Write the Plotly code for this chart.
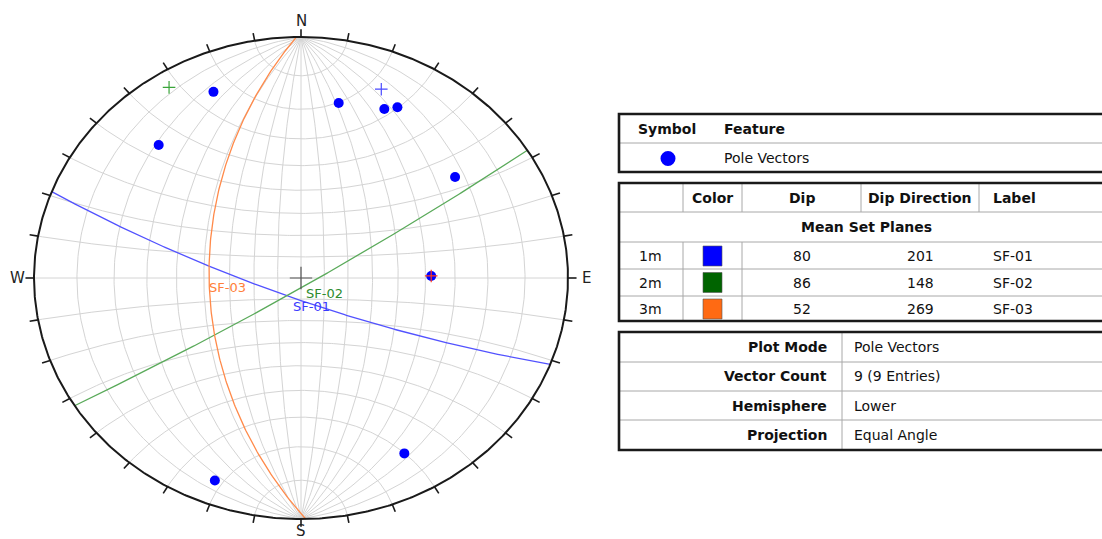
import numpy as np
import plotly.graph_objects as go

# ---------------- data ----------------
# pole vectors (trend / plunge, degrees)
pole_trend = [337, 316, 11, 24, 27, 54, 89, 152, 201]
pole_plunge = [10, 15, 17, 15, 13, 19, 38, 11, 6]

# mean set planes
set_ids = ["1m", "2m", "3m"]
set_dips = [80, 86, 52]
set_dirs = [201, 148, 269]
set_labels = ["SF-01", "SF-02", "SF-03"]
set_colors = ["#0000ff", "#006400", "#ff6a13"]
set_line_colors = ["#5252ff", "#5aaa5a", "#ff8a4a"]
set_text_colors = ["#3a3aff", "#2e8b2e", "#ff7f3a"]
set_pole_colors = ["#4a4aff", "#3aa53a", "#ff3a1a"]

info_keys = ["Plot Mode", "Vector Count", "Hemisphere", "Projection"]
info_vals = ["Pole Vectors", f"{len(pole_trend)} ({len(pole_trend)} Entries)",
             "Lower", "Equal Angle"]

compass = ["N", "E", "S", "W"]

# ---------------- page geometry ----------------
W, H = 1102, 539
CX, CY, RX, RY = 301, 278, 267, 241   # net centre / radii on the page
FONT = "DejaVu Sans"
TXT = "#111111"


def vec_to_xy(e, n, d):
    """Lower-hemisphere equal-angle (stereographic) projection of unit vectors."""
    e, n, d = np.asarray(e, float), np.asarray(n, float), np.asarray(d, float)
    return e / (1 + d), n / (1 + d)


def line_to_xy(trend, plunge):
    t, p = np.radians(trend), np.radians(plunge)
    return vec_to_xy(np.cos(p) * np.sin(t), np.cos(p) * np.cos(t), np.sin(p))


def plane_curve(dip_dir, dip, n=241):
    th = np.linspace(0, np.pi, n)
    s = np.radians(dip_dir - 90)
    dd, dp = np.radians(dip_dir), np.radians(dip)
    e = np.cos(th) * np.sin(s) + np.sin(th) * np.cos(dp) * np.sin(dd)
    nn = np.cos(th) * np.cos(s) + np.sin(th) * np.cos(dp) * np.cos(dd)
    d = np.sin(th) * np.sin(dp)
    return vec_to_xy(e, nn, d)


fig = go.Figure()

# ---------------- net grid ----------------
gx, gy = [], []
th = np.linspace(0, np.pi, 181)
# great circles through N and S
for dip in range(10, 91, 10):
    for side in ([1, -1] if dip < 90 else [1]):
        dr = np.radians(dip)
        e = np.sin(th) * np.cos(dr) * side
        nn = np.cos(th)
        d = np.sin(th) * np.sin(dr)
        x, y = vec_to_xy(e, nn, d)
        gx += list(x) + [None]
        gy += list(y) + [None]
# small circles about the N-S axis
for a in range(10, 171, 10):
    ar = np.radians(a)
    e = np.sin(ar) * np.cos(th)
    nn = np.full_like(th, np.cos(ar))
    d = np.sin(ar) * np.sin(th)
    x, y = vec_to_xy(e, nn, d)
    gx += list(x) + [None]
    gy += list(y) + [None]
fig.add_trace(go.Scatter(x=gx, y=gy, mode="lines",
                         line=dict(color="#d4d4d4", width=1), hoverinfo="skip"))

# ---------------- mean set planes ----------------
for dd, dp, col in zip(set_dirs, set_dips, set_line_colors):
    x, y = plane_curve(dd, dp)
    fig.add_trace(go.Scatter(x=x, y=y, mode="lines",
                             line=dict(color=col, width=1.3), hoverinfo="skip"))

# ---------------- primitive and ticks ----------------
az = np.radians(np.linspace(0, 360, 721))
fig.add_trace(go.Scatter(x=np.sin(az), y=np.cos(az), mode="lines",
                         line=dict(color="#1a1a1a", width=2), hoverinfo="skip"))
tx, ty = [], []
for a in range(0, 360, 10):
    ar = np.radians(a)
    tx += [np.sin(ar), 1.032 * np.sin(ar), None]
    ty += [np.cos(ar), 1.032 * np.cos(ar), None]
fig.add_trace(go.Scatter(x=tx, y=ty, mode="lines",
                         line=dict(color="#1a1a1a", width=1.6), hoverinfo="skip"))

# centre cross
fig.add_trace(go.Scatter(x=[0], y=[0], mode="markers",
                         marker=dict(symbol="cross-thin", size=16,
                                     line=dict(color="#555555", width=1.2)),
                         hoverinfo="skip"))

# ---------------- pole vectors ----------------
px_, py_ = line_to_xy(pole_trend, pole_plunge)
fig.add_trace(go.Scatter(x=px_, y=py_, mode="markers",
                         marker=dict(color="#0000ff", size=10, line=dict(width=0)),
                         hoverinfo="skip"))

# poles of the mean set planes
for dd, dp, col in zip(set_dirs, set_dips, set_pole_colors):
    x, y = line_to_xy([(dd + 180) % 360], [90 - dp])
    fig.add_trace(go.Scatter(x=x, y=y, mode="markers",
                             marker=dict(symbol="cross-thin", size=9,
                                         line=dict(color=col, width=1.2)),
                             hoverinfo="skip"))

annotations = []
# plane labels at the dip vector of each plane
for dd, dp, lab, col in zip(set_dirs, set_dips, set_labels, set_text_colors):
    x, y = line_to_xy([dd], [dp])
    annotations.append(dict(x=float(x[0]), y=float(y[0]), xref="x", yref="y",
                            text=lab, showarrow=False, xanchor="left", yanchor="top",
                            xshift=-1, yshift=0, borderpad=0,
                            font=dict(family=FONT, size=13, color=col)))

# compass letters
for lab, (dx, dy) in zip(compass, [(0, 16), (18, 0), (0, -12), (-17, 0)]):
    ang = np.radians({"N": 0, "E": 90, "S": 180, "W": 270}[lab])
    annotations.append(dict(x=float(np.sin(ang)), y=float(np.cos(ang)), xref="x", yref="y",
                            text=lab, showarrow=False, xshift=dx, yshift=dy,
                            xanchor="center", yanchor="middle",
                            font=dict(family=FONT, size=15, color="#222222")))

# ---------------- legend / info tables (page pixel layout) ----------------
def pxx(x):
    return x / W


def pxy(y):
    return 1 - y / H


shapes = []


def hline(y, x0, x1, color="#a8a8a8", width=1):
    shapes.append(dict(type="line", xref="paper", yref="paper",
                       x0=pxx(x0), x1=pxx(x1), y0=pxy(y), y1=pxy(y),
                       line=dict(color=color, width=width)))


def vline(x, y0, y1, color="#a8a8a8", width=1):
    shapes.append(dict(type="line", xref="paper", yref="paper",
                       x0=pxx(x), x1=pxx(x), y0=pxy(y0), y1=pxy(y1),
                       line=dict(color=color, width=width)))


def box(x0, y0, x1, y1):
    shapes.append(dict(type="rect", xref="paper", yref="paper",
                       x0=pxx(x0), x1=pxx(x1), y0=pxy(y0), y1=pxy(y1),
                       line=dict(color="#1a1a1a", width=2.6), fillcolor="rgba(0,0,0,0)"))


def text(x, y, s, anchor="center", bold=False, size=14):
    annotations.append(dict(x=pxx(x), y=pxy(y), xref="paper", yref="paper",
                            text=f"<b>{s}</b>" if bold else s, showarrow=False,
                            xanchor=anchor, yanchor="middle",
                            font=dict(family=FONT, size=size, color=TXT)))


L, R = 619, 1114

# symbol / feature table
hline(143, L, R)
box(L, 114, R, 172)
text(667, 129, "Symbol", bold=True)
text(722, 129, "Feature", "left", bold=True)
shapes.append(dict(type="circle", xref="paper", yref="paper",
                   x0=pxx(660.5), x1=pxx(675.5), y0=pxy(151), y1=pxy(166),
                   fillcolor="#0000ff", line=dict(width=0)))
text(722, 158, "Pole Vectors", "left")

# mean set planes table
for y in (212, 242, 269, 296):
    hline(y, L, R)
for x in (683, 742, 861, 979):
    vline(x, 183, 212)
for x in (683, 742):
    vline(x, 242, 321)
box(L, 183, R, 321)
for s, x, anc in zip(["Color", "Dip", "Dip Direction", "Label"],
                     [712, 802, 920, 991], ["center", "center", "center", "left"]):
    text(x, 198, s, anc, bold=True)
text(866, 227, "Mean Set Planes", bold=True)
for i, (sid, dp, dd, lab, col) in enumerate(zip(set_ids, set_dips, set_dirs,
                                                 set_labels, set_colors)):
    yc = 256 + i * 26.5
    text(650, yc, sid)
    shapes.append(dict(type="rect", xref="paper", yref="paper",
                       x0=pxx(703), x1=pxx(722), y0=pxy(yc - 10), y1=pxy(yc + 10),
                       fillcolor=col, line=dict(color="#555555", width=0.6)))
    text(802, yc, str(dp))
    text(920, yc, str(dd))
    text(991, yc, lab, "left")

# plot information table
for y in (362, 391, 420):
    hline(y, L, R)
vline(842, 332, 450)
box(L, 332, R, 450)
for i, (k, v) in enumerate(zip(info_keys, info_vals)):
    yc = 347 + i * 29.3
    text(829, yc, k, "right", bold=True)
    text(852, yc, v, "left")

fig.update_layout(
    width=W, height=H, autosize=False,
    margin=dict(l=0, r=0, t=0, b=0),
    paper_bgcolor="white", plot_bgcolor="white",
    showlegend=False,
    xaxis=dict(range=[-CX / RX, (W - CX) / RX], domain=[0, 1], visible=False,
               fixedrange=True),
    yaxis=dict(range=[-(H - CY) / RY, CY / RY], domain=[0, 1], visible=False,
               fixedrange=True),
    shapes=shapes,
    annotations=annotations,
)

fig.write_html("out.html", config={"displayModeBar": False})
